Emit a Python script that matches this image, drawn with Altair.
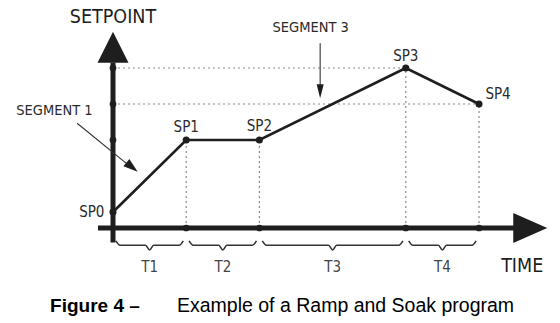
import altair as alt
import pandas as pd

# ---- program data (time in segment units, setpoint in arbitrary units) ----
sp_names = ["SP0", "SP1", "SP2", "SP3", "SP4"]
sp_time = [0, 1, 2, 4, 5]
sp_value = [20, 110, 110, 200, 155]
interval_names = ["T1", "T2", "T3", "T4"]
x_title = "TIME"
y_title = "SETPOINT"
seg_names = ["SEGMENT 1", "SEGMENT 3"]
caption_bold = "Figure 4 \u2013"
caption_text = "Example of a Ramp and Soak program"

# ---- scales ----
X_DOM = [-113 / 73.2, (560 - 113) / 73.2]
Y_DOM = [(228 - 323) / 0.8, 228 / 0.8]
xs = alt.Scale(domain=X_DOM, nice=False, zero=False)
ys = alt.Scale(domain=Y_DOM, nice=False, zero=False)


def X(f="t"):
    return alt.X(f"{f}:Q", scale=xs, axis=None)


def Y(f="v"):
    return alt.Y(f"{f}:Q", scale=ys, axis=None)


NARROW = "Liberation Sans Narrow, Arial Narrow, DejaVu Sans Condensed, sans-serif"
SANS = "Liberation Sans, Arial, sans-serif"
INK = "#1e1e1e"

prof = pd.DataFrame({"name": sp_names, "t": sp_time, "v": sp_value})

# dotted guide lines
g_rows = []
for t, v in zip(sp_time[3:], sp_value[3:]):
    g_rows.append({"t1": 0, "t2": t, "v1": v, "v2": v})
for t, v in zip(sp_time[1:], sp_value[1:]):
    g_rows.append({"t1": t, "t2": t, "v1": 0, "v2": v})
guides = pd.DataFrame(g_rows)

# axes lines
axes_df = pd.DataFrame([
    {"t1": -0.205, "t2": 5.5, "v1": 0, "v2": 0},
    {"t1": 0, "t2": 0, "v1": -18, "v2": 207},
])

# axis tick dots
ticks = pd.DataFrame(
    [{"t": 0, "v": v} for v in sorted(set(sp_value[1:]))]
    + [{"t": t, "v": 0} for t in sp_time[1:]]
)

# braces under the time axis
gap, hook, vt, vm, vd = 0.04, 0.055, -16.0, -21.5, -27.5
b_rows = []
for i, name in enumerate(interval_names):
    a = sp_time[i] + gap
    b = sp_time[i + 1] - gap
    c = (a + b) / 2
    pts = [(a, vt), (a + hook, vm), (c - hook, vm), (c, vd),
           (c + hook, vm), (b - hook, vm), (b, vt)]
    for k, (tt, vv) in enumerate(pts):
        b_rows.append({"name": name, "k": k, "t": tt, "v": vv})
braces = pd.DataFrame(b_rows)

tlabels = pd.DataFrame({
    "name": interval_names,
    "t": [(sp_time[i] + sp_time[i + 1]) / 2 for i in range(4)],
    "v": [-49] * 4,
})

# SP label positions
splab = pd.DataFrame({
    "name": sp_names,
    "t": [-0.29, 1, 2, 4, 5.26],
    "v": [20, 126, 128, 215, 167],
})


def rules(df, **kw):
    return alt.Chart(df).mark_rule(**kw).encode(
        x=X("t1"), x2="t2:Q", y=Y("v1"), y2="v2:Q")


guide_layer = rules(guides, color="#8a8a8a", strokeWidth=1.2, strokeDash=[2, 3])
axis_layer = rules(axes_df, color=INK, strokeWidth=5)

tick_layer = alt.Chart(ticks).mark_point(filled=True, size=45, color=INK, opacity=1).encode(
    x=X(), y=Y())

up_arrow = alt.Chart(pd.DataFrame({"t": [0], "v": [226]})).mark_point(
    shape="M -1 1 L 0 -1 L 1 1 Z", filled=True, size=961, color=INK, opacity=1
).encode(x=X(), y=Y())
right_arrow = alt.Chart(pd.DataFrame({"t": [5.70], "v": [0]})).mark_point(
    shape="M -1 -0.88 L 1 0 L -1 0.88 Z", filled=True, size=1156, color=INK, opacity=1
).encode(x=X(), y=Y())

profile = alt.Chart(prof).mark_line(color=INK, strokeWidth=2.6).encode(
    x=X(), y=Y(), order="t:Q")
profile_pts = alt.Chart(prof).mark_point(filled=True, size=50, color=INK, opacity=1).encode(
    x=X(), y=Y())

brace_layer = alt.Chart(braces).mark_line(color="#333333", strokeWidth=1.6, interpolate="monotone").encode(
    x=X(), y=Y(), detail="name:N", order="k:Q")

tlab_layer = alt.Chart(tlabels).mark_text(font=NARROW, fontSize=15, color="#444444").encode(
    x=X(), y=Y(), text="name:N")

splab_layer = alt.Chart(splab).mark_text(font=NARROW, fontSize=15, color="#2a2a2a").encode(
    x=X(), y=Y(), text="name:N")

titles = pd.DataFrame({
    "name": [y_title, x_title],
    "t": [0, 5.59],
    "v": [264, -47.5],
})
title_layer = alt.Chart(titles).mark_text(font=NARROW, fontSize=19.5, color=INK).encode(
    x=X(), y=Y(), text="name:N")

seg = pd.DataFrame({"name": seg_names, "t": [-0.80, 2.70], "v": [146, 250]})
seg_layer = alt.Chart(seg).mark_text(font=NARROW, fontSize=14.5, color="#2a2a2a").encode(
    x=X(), y=Y(), text="name:N")

callouts = pd.DataFrame([
    {"t1": -0.49, "t2": 0.22, "v1": 131, "v2": 78},
    {"t1": 2.83, "t2": 2.83, "v1": 231, "v2": 176},
])
callout_layer = rules(callouts, color="#333333", strokeWidth=1.1)

head1 = alt.Chart(pd.DataFrame({"t": [0.26], "v": [76]})).mark_point(
    shape="M -1 -0.65 L 1 0 L -1 0.65 Z", filled=True, size=210, color=INK, opacity=1, angle=39
).encode(x=X(), y=Y())
head3 = alt.Chart(pd.DataFrame({"t": [2.83], "v": [171]})).mark_point(
    shape="M -0.5 -1 L 0 1 L 0.5 -1 Z", filled=True, size=200, color=INK, opacity=1
).encode(x=X(), y=Y())

cap_bold = alt.Chart(pd.DataFrame({"name": [caption_bold], "t": [-0.86], "v": [-97.5]})).mark_text(
    font=SANS, fontSize=19, fontWeight="bold", align="left", color="#000000"
).encode(x=X(), y=Y(), text="name:N")
cap_text = alt.Chart(pd.DataFrame({"name": [caption_text], "t": [0.874], "v": [-97.5]})).mark_text(
    font=SANS, fontSize=19.5, align="left", color="#000000"
).encode(x=X(), y=Y(), text="name:N")

chart = alt.layer(
    guide_layer, axis_layer, tick_layer, up_arrow, right_arrow,
    profile, profile_pts, brace_layer, tlab_layer, splab_layer,
    title_layer, seg_layer, callout_layer, head1, head3, cap_bold, cap_text,
).properties(
    width=560, height=323, padding=0, autosize=alt.AutoSizeParams(type="none"),
    background="white",
).configure_view(stroke=None)

chart.save("out.html", embed_options={"renderer": "svg", "actions": False})
